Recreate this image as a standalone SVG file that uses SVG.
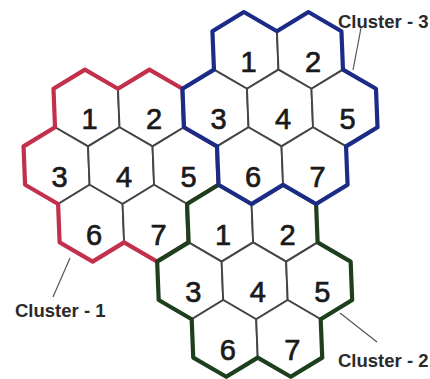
<svg xmlns="http://www.w3.org/2000/svg" xmlns:xlink="http://www.w3.org/1999/xlink" width="430" height="379" viewBox="0 0 430 379">
  <style>
    .cell { fill: #ffffff; stroke: #454545; stroke-width: 1.9; stroke-linejoin: round; }
    .outline { fill: none; stroke-width: 4.2; stroke-linejoin: round; stroke-linecap: round; }
    .num { font-family: "Liberation Sans", Arial, sans-serif; font-size: 29px; fill: #1a1a1a; stroke: #1a1a1a; stroke-width: 0.7; text-anchor: middle; }
    .lbl { font-family: "Liberation Sans", Arial, sans-serif; font-size: 18.5px; font-weight: bold; fill: #2a2a2a; }
    .lead { stroke: #555555; stroke-width: 1.2; fill: none; }
  </style>
  <defs>
    <polygon id="hex" points="0,-38.4 32.25,-19.2 32.25,19.2 0,38.4 -32.25,19.2 -32.25,-19.2"/>
    <path id="flower" d="M-64.5,-76.8 L-32.25,-96 L0,-76.8 L32.25,-96 L64.5,-76.8 L64.5,-38.4 L96.75,-19.2 L96.75,19.2 L64.5,38.4 L64.5,76.8 L32.25,96 L0,76.8 L-32.25,96 L-64.5,76.8 L-64.5,38.4 L-96.75,19.2 L-96.75,-19.2 L-64.5,-38.4 Z"/>
  </defs>
  <rect width="430" height="379" fill="#ffffff"/>

  <g id="cluster-1">
    <g transform="matrix(1 0 0.04 1 -4.32 0)">
      <use xlink:href="#hex" class="cell" x="86.5" y="108"/>
      <use xlink:href="#hex" class="cell" x="151" y="108"/>
      <use xlink:href="#hex" class="cell" x="54.25" y="165.6"/>
      <use xlink:href="#hex" class="cell" x="118.75" y="165.6"/>
      <use xlink:href="#hex" class="cell" x="183.25" y="165.6"/>
      <use xlink:href="#hex" class="cell" x="86.5" y="223.2"/>
      <use xlink:href="#hex" class="cell" x="151" y="223.2"/>
      <use xlink:href="#flower" class="outline" stroke="#c3304c" x="118.75" y="165.6"/>
    </g>
    <text class="num" x="89.5" y="129.4">1</text>
    <text class="num" x="154" y="129.4">2</text>
    <text class="num" x="59.5" y="187">3</text>
    <text class="num" x="124" y="187">4</text>
    <text class="num" x="188.5" y="187">5</text>
    <text class="num" x="94" y="244.6">6</text>
    <text class="num" x="158.6" y="244.6">7</text>
  </g>

  <g id="cluster-2">
    <g transform="matrix(1 0 0.04 1 -4.32 0)">
      <use xlink:href="#hex" class="cell" x="215.5" y="223.2"/>
      <use xlink:href="#hex" class="cell" x="280" y="223.2"/>
      <use xlink:href="#hex" class="cell" x="183.25" y="280.8"/>
      <use xlink:href="#hex" class="cell" x="247.75" y="280.8"/>
      <use xlink:href="#hex" class="cell" x="312.25" y="280.8"/>
      <use xlink:href="#hex" class="cell" x="215.5" y="338.4"/>
      <use xlink:href="#hex" class="cell" x="280" y="338.4"/>
      <use xlink:href="#flower" class="outline" stroke="#1e3f1e" x="247.75" y="280.8"/>
    </g>
    <text class="num" x="223.1" y="244.6">1</text>
    <text class="num" x="287.6" y="244.6">2</text>
    <text class="num" x="193.2" y="302.2">3</text>
    <text class="num" x="257.7" y="302.2">4</text>
    <text class="num" x="322.2" y="302.2">5</text>
    <text class="num" x="227.7" y="359.8">6</text>
    <text class="num" x="292.2" y="359.8">7</text>
  </g>

  <g id="cluster-3">
    <g transform="matrix(1 0 0.04 1 -4.32 0)">
      <use xlink:href="#hex" class="cell" x="247.75" y="50.4"/>
      <use xlink:href="#hex" class="cell" x="312.25" y="50.4"/>
      <use xlink:href="#hex" class="cell" x="215.5" y="108"/>
      <use xlink:href="#hex" class="cell" x="280" y="108"/>
      <use xlink:href="#hex" class="cell" x="344.5" y="108"/>
      <use xlink:href="#hex" class="cell" x="247.75" y="165.6"/>
      <use xlink:href="#hex" class="cell" x="312.25" y="165.6"/>
      <use xlink:href="#flower" class="outline" stroke="#1c2c86" x="280" y="108"/>
    </g>
    <text class="num" x="248.5" y="71.8">1</text>
    <text class="num" x="313" y="71.8">2</text>
    <text class="num" x="218.5" y="129.4">3</text>
    <text class="num" x="283" y="129.4">4</text>
    <text class="num" x="347.5" y="129.4">5</text>
    <text class="num" x="253" y="187">6</text>
    <text class="num" x="317.5" y="187">7</text>
  </g>

  <g id="connectors">
    <line class="lead" x1="70" y1="258" x2="53" y2="297"/>
    <line class="lead" x1="340" y1="313" x2="377" y2="342"/>
    <line class="lead" x1="353" y1="70" x2="361" y2="28"/>
  </g>

  <g id="labels">
    <text class="lbl" x="15" y="317">Cluster - 1</text>
    <text class="lbl" x="338" y="367">Cluster - 2</text>
    <text class="lbl" x="338" y="28">Cluster - 3</text>
  </g>
</svg>
